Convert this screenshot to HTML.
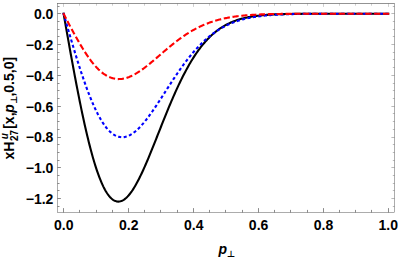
<!DOCTYPE html>
<html><head><meta charset="utf-8"><style>
html,body{margin:0;padding:0;background:#fff;}
svg{display:block;}
</style></head><body>
<svg width="398" height="258" viewBox="0 0 398 258">
<title>xH27u[x,p⊥,0.5,0] versus p⊥</title>
<desc>Line chart with three curves (solid black, dotted blue, dashed red). x axis p⊥ from 0.0 to 1.0; y axis xH27u[x,p⊥,0.5,0] from −1.2 to 0.0.</desc>
<rect width="398" height="258" fill="#fff"/>
<g fill="none" stroke-linejoin="round">
<path d="M63.60,13.72 L64.41,18.32 L65.22,22.91 L66.03,27.49 L66.85,32.07 L67.66,36.64 L68.47,41.19 L69.28,45.72 L70.09,50.23 L70.90,54.72 L71.72,59.18 L72.53,63.61 L73.34,68.01 L74.15,72.37 L74.96,76.69 L75.77,80.97 L76.58,85.21 L77.40,89.41 L78.21,93.55 L79.02,97.64 L79.83,101.68 L80.64,105.66 L81.45,109.59 L82.26,113.45 L83.08,117.25 L83.89,120.98 L84.70,124.65 L85.51,128.24 L86.32,131.77 L87.13,135.22 L87.95,138.60 L88.76,141.90 L89.57,145.12 L90.38,148.26 L91.19,151.31 L92.00,154.29 L92.81,157.18 L93.63,159.99 L94.44,162.70 L95.25,165.33 L96.06,167.87 L96.87,170.33 L97.68,172.69 L98.49,174.96 L99.31,177.13 L100.12,179.22 L100.93,181.21 L101.74,183.11 L102.55,184.91 L103.36,186.62 L104.18,188.24 L104.99,189.76 L105.80,191.19 L106.61,192.52 L107.42,193.76 L108.23,194.91 L109.04,195.97 L109.86,196.93 L110.67,197.80 L111.48,198.57 L112.29,199.26 L113.10,199.86 L113.91,200.36 L114.72,200.78 L115.54,201.11 L116.35,201.36 L117.16,201.52 L117.97,201.59 L118.78,201.58 L119.59,201.49 L120.41,201.32 L121.22,201.07 L122.03,200.74 L122.84,200.34 L123.65,199.86 L124.46,199.31 L125.27,198.68 L126.09,197.98 L126.90,197.22 L127.71,196.39 L128.52,195.49 L129.33,194.53 L130.14,193.51 L130.95,192.42 L131.77,191.28 L132.58,190.09 L133.39,188.83 L134.20,187.53 L135.01,186.17 L135.82,184.77 L136.64,183.31 L137.45,181.82 L138.26,180.27 L139.07,178.69 L139.88,177.07 L140.69,175.41 L141.50,173.71 L142.32,171.98 L143.13,170.21 L143.94,168.42 L144.75,166.60 L145.56,164.75 L146.37,162.87 L147.18,160.97 L148.00,159.05 L148.81,157.11 L149.62,155.16 L150.43,153.18 L151.24,151.19 L152.05,149.19 L152.87,147.18 L153.68,145.15 L154.49,143.12 L155.30,141.08 L156.11,139.04 L156.92,136.99 L157.73,134.94 L158.55,132.89 L159.36,130.84 L160.17,128.79 L160.98,126.75 L161.79,124.70 L162.60,122.67 L163.41,120.64 L164.23,118.62 L165.04,116.60 L165.85,114.60 L166.66,112.61 L167.47,110.63 L168.28,108.66 L169.09,106.71 L169.91,104.77 L170.72,102.85 L171.53,100.94 L172.34,99.05 L173.15,97.18 L173.96,95.33 L174.78,93.49 L175.59,91.68 L176.40,89.89 L177.21,88.11 L178.02,86.36 L178.83,84.64 L179.64,82.93 L180.46,81.25 L181.27,79.59 L182.08,77.95 L182.89,76.34 L183.70,74.75 L184.51,73.18 L185.33,71.65 L186.14,70.13 L186.95,68.64 L187.76,67.18 L188.57,65.74 L189.38,64.33 L190.19,62.94 L191.01,61.58 L191.82,60.24 L192.63,58.93 L193.44,57.64 L194.25,56.38 L195.06,55.15 L195.87,53.94 L196.69,52.76 L197.50,51.60 L198.31,50.46 L199.12,49.36 L199.93,48.27 L200.74,47.21 L201.56,46.17 L202.37,45.16 L203.18,44.18 L203.99,43.21 L204.80,42.27 L205.61,41.35 L206.42,40.46 L207.24,39.58 L208.05,38.73 L208.86,37.90 L209.67,37.10 L210.48,36.31 L211.29,35.55 L212.10,34.80 L212.92,34.08 L213.73,33.37 L214.54,32.69 L215.35,32.02 L216.16,31.38 L216.97,30.75 L217.79,30.14 L218.60,29.55 L219.41,28.98 L220.22,28.42 L221.03,27.88 L221.84,27.35 L222.65,26.85 L223.47,26.36 L224.28,25.88 L225.09,25.42 L225.90,24.97 L226.71,24.54 L227.52,24.12 L228.33,23.72 L229.15,23.33 L229.96,22.95 L230.77,22.58 L231.58,22.23 L232.39,21.89 L233.20,21.56 L234.02,21.24 L234.83,20.94 L235.64,20.64 L236.45,20.36 L237.26,20.08 L238.07,19.82 L238.88,19.56 L239.70,19.31 L240.51,19.08 L241.32,18.85 L242.13,18.63 L242.94,18.42 L243.75,18.22 L244.56,18.02 L245.38,17.83 L246.19,17.65 L247.00,17.48 L247.81,17.31 L248.62,17.15 L249.43,17.00 L250.25,16.85 L251.06,16.71 L251.87,16.57 L252.68,16.44 L253.49,16.31 L254.30,16.19 L255.11,16.08 L255.93,15.97 L256.74,15.86 L257.55,15.76 L258.36,15.67 L259.17,15.57 L259.98,15.48 L260.79,15.40 L261.61,15.32 L262.42,15.24 L263.23,15.17 L264.04,15.10 L264.85,15.03 L265.66,14.96 L266.48,14.90 L267.29,14.84 L268.10,14.79 L268.91,14.73 L269.72,14.68 L270.53,14.63 L271.34,14.59 L272.16,14.54 L272.97,14.50 L273.78,14.46 L274.59,14.42 L275.40,14.38 L276.21,14.35 L277.02,14.32 L277.84,14.29 L278.65,14.26 L279.46,14.23 L280.27,14.20 L281.08,14.17 L281.89,14.15 L282.71,14.13 L283.52,14.10 L284.33,14.08 L285.14,14.06 L285.95,14.04 L286.76,14.03 L287.57,14.01 L288.39,13.99 L289.20,13.98 L290.01,13.96 L290.82,13.95 L291.63,13.94 L292.44,13.92 L293.25,13.91 L294.07,13.90 L294.88,13.89 L295.69,13.88 L296.50,13.87 L297.31,13.86 L298.12,13.86 L298.94,13.85 L299.75,13.84 L300.56,13.83 L301.37,13.83 L302.18,13.82 L302.99,13.81 L303.80,13.81 L304.62,13.80 L305.43,13.80 L306.24,13.79 L307.05,13.79 L307.86,13.78 L308.67,13.78 L309.48,13.78 L310.30,13.77 L311.11,13.77 L311.92,13.77 L312.73,13.76 L313.54,13.76 L314.35,13.76 L315.17,13.76 L315.98,13.75 L316.79,13.75 L317.60,13.75 L318.41,13.75 L319.22,13.75 L320.03,13.74 L320.85,13.74 L321.66,13.74 L322.47,13.74 L323.28,13.74 L324.09,13.74 L324.90,13.74 L325.71,13.74 L326.53,13.73 L327.34,13.73 L328.15,13.73 L328.96,13.73 L329.77,13.73 L330.58,13.73 L331.40,13.73 L332.21,13.73 L333.02,13.73 L333.83,13.73 L334.64,13.73 L335.45,13.73 L336.26,13.73 L337.08,13.73 L337.89,13.73 L338.70,13.72 L339.51,13.72 L340.32,13.72 L341.13,13.72 L341.94,13.72 L342.76,13.72 L343.57,13.72 L344.38,13.72 L345.19,13.72 L346.00,13.72 L346.81,13.72 L347.63,13.72 L348.44,13.72 L349.25,13.72 L350.06,13.72 L350.87,13.72 L351.68,13.72 L352.49,13.72 L353.31,13.72 L354.12,13.72 L354.93,13.72 L355.74,13.72 L356.55,13.72 L357.36,13.72 L358.17,13.72 L358.99,13.72 L359.80,13.72 L360.61,13.72 L361.42,13.72 L362.23,13.72 L363.04,13.72 L363.86,13.72 L364.67,13.72 L365.48,13.72 L366.29,13.72 L367.10,13.72 L367.91,13.72 L368.72,13.72 L369.54,13.72 L370.35,13.72 L371.16,13.72 L371.97,13.72 L372.78,13.72 L373.59,13.72 L374.40,13.72 L375.22,13.72 L376.03,13.72 L376.84,13.72 L377.65,13.72 L378.46,13.72 L379.27,13.72 L380.09,13.72 L380.90,13.72 L381.71,13.72 L382.52,13.72 L383.33,13.72 L384.14,13.72 L384.95,13.72 L385.77,13.72 L386.58,13.72 L387.39,13.72 L388.20,13.72" stroke="#000" stroke-width="2.1" stroke-linecap="square"/>
<path d="M63.60,13.72 L64.41,16.55 L65.22,19.37 L66.03,22.19 L66.85,25.00 L67.66,27.81 L68.47,30.61 L69.28,33.41 L70.09,36.19 L70.90,38.95 L71.72,41.70 L72.53,44.44 L73.34,47.16 L74.15,49.86 L74.96,52.54 L75.77,55.20 L76.58,57.83 L77.40,60.44 L78.21,63.02 L79.02,65.57 L79.83,68.10 L80.64,70.59 L81.45,73.05 L82.26,75.48 L83.08,77.87 L83.89,80.23 L84.70,82.55 L85.51,84.84 L86.32,87.08 L87.13,89.29 L87.95,91.45 L88.76,93.57 L89.57,95.65 L90.38,97.68 L91.19,99.67 L92.00,101.61 L92.81,103.51 L93.63,105.35 L94.44,107.15 L95.25,108.90 L96.06,110.60 L96.87,112.25 L97.68,113.85 L98.49,115.40 L99.31,116.90 L100.12,118.34 L100.93,119.73 L101.74,121.07 L102.55,122.36 L103.36,123.59 L104.18,124.77 L104.99,125.89 L105.80,126.97 L106.61,127.98 L107.42,128.94 L108.23,129.85 L109.04,130.71 L109.86,131.51 L110.67,132.25 L111.48,132.95 L112.29,133.59 L113.10,134.17 L113.91,134.70 L114.72,135.18 L115.54,135.61 L116.35,135.99 L117.16,136.31 L117.97,136.59 L118.78,136.81 L119.59,136.98 L120.41,137.11 L121.22,137.18 L122.03,137.21 L122.84,137.19 L123.65,137.12 L124.46,137.01 L125.27,136.85 L126.09,136.64 L126.90,136.39 L127.71,136.10 L128.52,135.77 L129.33,135.39 L130.14,134.98 L130.95,134.52 L131.77,134.02 L132.58,133.49 L133.39,132.92 L134.20,132.31 L135.01,131.67 L135.82,131.00 L136.64,130.29 L137.45,129.55 L138.26,128.77 L139.07,127.97 L139.88,127.14 L140.69,126.28 L141.50,125.39 L142.32,124.47 L143.13,123.53 L143.94,122.57 L144.75,121.58 L145.56,120.57 L146.37,119.54 L147.18,118.49 L148.00,117.42 L148.81,116.33 L149.62,115.22 L150.43,114.10 L151.24,112.96 L152.05,111.81 L152.87,110.65 L153.68,109.47 L154.49,108.28 L155.30,107.08 L156.11,105.87 L156.92,104.65 L157.73,103.42 L158.55,102.19 L159.36,100.94 L160.17,99.70 L160.98,98.45 L161.79,97.19 L162.60,95.94 L163.41,94.68 L164.23,93.42 L165.04,92.16 L165.85,90.90 L166.66,89.64 L167.47,88.38 L168.28,87.12 L169.09,85.87 L169.91,84.62 L170.72,83.37 L171.53,82.13 L172.34,80.90 L173.15,79.67 L173.96,78.45 L174.78,77.23 L175.59,76.02 L176.40,74.82 L177.21,73.63 L178.02,72.45 L178.83,71.27 L179.64,70.11 L180.46,68.96 L181.27,67.81 L182.08,66.68 L182.89,65.56 L183.70,64.45 L184.51,63.35 L185.33,62.27 L186.14,61.20 L186.95,60.14 L187.76,59.09 L188.57,58.05 L189.38,57.03 L190.19,56.03 L191.01,55.03 L191.82,54.06 L192.63,53.09 L193.44,52.14 L194.25,51.20 L195.06,50.28 L195.87,49.37 L196.69,48.48 L197.50,47.60 L198.31,46.74 L199.12,45.89 L199.93,45.05 L200.74,44.23 L201.56,43.43 L202.37,42.64 L203.18,41.86 L203.99,41.10 L204.80,40.35 L205.61,39.62 L206.42,38.90 L207.24,38.20 L208.05,37.51 L208.86,36.84 L209.67,36.17 L210.48,35.53 L211.29,34.89 L212.10,34.28 L212.92,33.67 L213.73,33.08 L214.54,32.50 L215.35,31.93 L216.16,31.38 L216.97,30.84 L217.79,30.32 L218.60,29.80 L219.41,29.30 L220.22,28.81 L221.03,28.34 L221.84,27.87 L222.65,27.42 L223.47,26.98 L224.28,26.55 L225.09,26.13 L225.90,25.72 L226.71,25.32 L227.52,24.94 L228.33,24.56 L229.15,24.20 L229.96,23.84 L230.77,23.50 L231.58,23.16 L232.39,22.83 L233.20,22.52 L234.02,22.21 L234.83,21.91 L235.64,21.62 L236.45,21.34 L237.26,21.07 L238.07,20.80 L238.88,20.55 L239.70,20.30 L240.51,20.06 L241.32,19.82 L242.13,19.60 L242.94,19.38 L243.75,19.17 L244.56,18.96 L245.38,18.76 L246.19,18.57 L247.00,18.39 L247.81,18.21 L248.62,18.03 L249.43,17.87 L250.25,17.70 L251.06,17.55 L251.87,17.40 L252.68,17.25 L253.49,17.11 L254.30,16.97 L255.11,16.84 L255.93,16.72 L256.74,16.60 L257.55,16.48 L258.36,16.36 L259.17,16.25 L259.98,16.15 L260.79,16.05 L261.61,15.95 L262.42,15.86 L263.23,15.77 L264.04,15.68 L264.85,15.60 L265.66,15.52 L266.48,15.44 L267.29,15.36 L268.10,15.29 L268.91,15.22 L269.72,15.16 L270.53,15.09 L271.34,15.03 L272.16,14.98 L272.97,14.92 L273.78,14.87 L274.59,14.81 L275.40,14.76 L276.21,14.72 L277.02,14.67 L277.84,14.63 L278.65,14.59 L279.46,14.55 L280.27,14.51 L281.08,14.47 L281.89,14.44 L282.71,14.40 L283.52,14.37 L284.33,14.34 L285.14,14.31 L285.95,14.28 L286.76,14.25 L287.57,14.23 L288.39,14.20 L289.20,14.18 L290.01,14.16 L290.82,14.14 L291.63,14.12 L292.44,14.10 L293.25,14.08 L294.07,14.06 L294.88,14.04 L295.69,14.03 L296.50,14.01 L297.31,14.00 L298.12,13.98 L298.94,13.97 L299.75,13.96 L300.56,13.94 L301.37,13.93 L302.18,13.92 L302.99,13.91 L303.80,13.90 L304.62,13.89 L305.43,13.88 L306.24,13.87 L307.05,13.87 L307.86,13.86 L308.67,13.85 L309.48,13.84 L310.30,13.84 L311.11,13.83 L311.92,13.82 L312.73,13.82 L313.54,13.81 L314.35,13.81 L315.17,13.80 L315.98,13.80 L316.79,13.79 L317.60,13.79 L318.41,13.79 L319.22,13.78 L320.03,13.78 L320.85,13.78 L321.66,13.77 L322.47,13.77 L323.28,13.77 L324.09,13.76 L324.90,13.76 L325.71,13.76 L326.53,13.76 L327.34,13.76 L328.15,13.75 L328.96,13.75 L329.77,13.75 L330.58,13.75 L331.40,13.75 L332.21,13.74 L333.02,13.74 L333.83,13.74 L334.64,13.74 L335.45,13.74 L336.26,13.74 L337.08,13.74 L337.89,13.74 L338.70,13.73 L339.51,13.73 L340.32,13.73 L341.13,13.73 L341.94,13.73 L342.76,13.73 L343.57,13.73 L344.38,13.73 L345.19,13.73 L346.00,13.73 L346.81,13.73 L347.63,13.73 L348.44,13.73 L349.25,13.73 L350.06,13.73 L350.87,13.73 L351.68,13.73 L352.49,13.73 L353.31,13.72 L354.12,13.72 L354.93,13.72 L355.74,13.72 L356.55,13.72 L357.36,13.72 L358.17,13.72 L358.99,13.72 L359.80,13.72 L360.61,13.72 L361.42,13.72 L362.23,13.72 L363.04,13.72 L363.86,13.72 L364.67,13.72 L365.48,13.72 L366.29,13.72 L367.10,13.72 L367.91,13.72 L368.72,13.72 L369.54,13.72 L370.35,13.72 L371.16,13.72 L371.97,13.72 L372.78,13.72 L373.59,13.72 L374.40,13.72 L375.22,13.72 L376.03,13.72 L376.84,13.72 L377.65,13.72 L378.46,13.72 L379.27,13.72 L380.09,13.72 L380.90,13.72 L381.71,13.72 L382.52,13.72 L383.33,13.72 L384.14,13.72 L384.95,13.72 L385.77,13.72 L386.58,13.72 L387.39,13.72 L388.20,13.72" stroke="#0000ff" stroke-width="2.1" stroke-linecap="square" stroke-dasharray="1.0 4.5224" stroke-dashoffset="5.19"/>
<path d="M63.60,13.72 L64.41,15.34 L65.22,16.93 L66.03,18.49 L66.85,20.05 L67.66,21.60 L68.47,23.13 L69.28,24.66 L70.09,26.19 L70.90,27.70 L71.72,29.21 L72.53,30.70 L73.34,32.19 L74.15,33.67 L74.96,35.14 L75.77,36.59 L76.58,38.04 L77.40,39.47 L78.21,40.89 L79.02,42.29 L79.83,43.68 L80.64,45.06 L81.45,46.41 L82.26,47.75 L83.08,49.07 L83.89,50.37 L84.70,51.65 L85.51,52.90 L86.32,54.14 L87.13,55.35 L87.95,56.53 L88.76,57.69 L89.57,58.83 L90.38,59.94 L91.19,61.02 L92.00,62.07 L92.81,63.09 L93.63,64.09 L94.44,65.05 L95.25,65.98 L96.06,66.88 L96.87,67.76 L97.68,68.59 L98.49,69.40 L99.31,70.18 L100.12,70.92 L100.93,71.63 L101.74,72.31 L102.55,72.95 L103.36,73.56 L104.18,74.14 L104.99,74.68 L105.80,75.20 L106.61,75.68 L107.42,76.12 L108.23,76.54 L109.04,76.92 L109.86,77.27 L110.67,77.59 L111.48,77.87 L112.29,78.13 L113.10,78.35 L113.91,78.54 L114.72,78.71 L115.54,78.84 L116.35,78.94 L117.16,79.01 L117.97,79.06 L118.78,79.07 L119.59,79.06 L120.41,79.02 L121.22,78.95 L122.03,78.86 L122.84,78.74 L123.65,78.59 L124.46,78.42 L125.27,78.23 L126.09,78.01 L126.90,77.76 L127.71,77.50 L128.52,77.21 L129.33,76.90 L130.14,76.56 L130.95,76.21 L131.77,75.84 L132.58,75.44 L133.39,75.03 L134.20,74.60 L135.01,74.16 L135.82,73.69 L136.64,73.21 L137.45,72.71 L138.26,72.20 L139.07,71.67 L139.88,71.13 L140.69,70.58 L141.50,70.01 L142.32,69.43 L143.13,68.84 L143.94,68.24 L144.75,67.63 L145.56,67.01 L146.37,66.37 L147.18,65.74 L148.00,65.09 L148.81,64.43 L149.62,63.77 L150.43,63.10 L151.24,62.43 L152.05,61.75 L152.87,61.07 L153.68,60.38 L154.49,59.69 L155.30,59.00 L156.11,58.30 L156.92,57.61 L157.73,56.91 L158.55,56.21 L159.36,55.51 L160.17,54.80 L160.98,54.10 L161.79,53.40 L162.60,52.71 L163.41,52.01 L164.23,51.31 L165.04,50.62 L165.85,49.93 L166.66,49.25 L167.47,48.56 L168.28,47.88 L169.09,47.21 L169.91,46.54 L170.72,45.87 L171.53,45.21 L172.34,44.56 L173.15,43.91 L173.96,43.26 L174.78,42.62 L175.59,41.99 L176.40,41.37 L177.21,40.75 L178.02,40.14 L178.83,39.53 L179.64,38.93 L180.46,38.34 L181.27,37.76 L182.08,37.19 L182.89,36.62 L183.70,36.06 L184.51,35.51 L185.33,34.97 L186.14,34.43 L186.95,33.91 L187.76,33.39 L188.57,32.88 L189.38,32.38 L190.19,31.88 L191.01,31.40 L191.82,30.92 L192.63,30.46 L193.44,30.00 L194.25,29.55 L195.06,29.11 L195.87,28.68 L196.69,28.25 L197.50,27.84 L198.31,27.43 L199.12,27.03 L199.93,26.64 L200.74,26.26 L201.56,25.88 L202.37,25.52 L203.18,25.16 L203.99,24.81 L204.80,24.47 L205.61,24.14 L206.42,23.81 L207.24,23.49 L208.05,23.18 L208.86,22.88 L209.67,22.59 L210.48,22.30 L211.29,22.02 L212.10,21.75 L212.92,21.48 L213.73,21.22 L214.54,20.97 L215.35,20.72 L216.16,20.49 L216.97,20.25 L217.79,20.03 L218.60,19.81 L219.41,19.60 L220.22,19.39 L221.03,19.19 L221.84,18.99 L222.65,18.80 L223.47,18.62 L224.28,18.44 L225.09,18.27 L225.90,18.10 L226.71,17.94 L227.52,17.78 L228.33,17.63 L229.15,17.48 L229.96,17.34 L230.77,17.20 L231.58,17.07 L232.39,16.94 L233.20,16.81 L234.02,16.69 L234.83,16.58 L235.64,16.46 L236.45,16.35 L237.26,16.25 L238.07,16.15 L238.88,16.05 L239.70,15.95 L240.51,15.86 L241.32,15.77 L242.13,15.69 L242.94,15.61 L243.75,15.53 L244.56,15.45 L245.38,15.38 L246.19,15.31 L247.00,15.24 L247.81,15.18 L248.62,15.11 L249.43,15.05 L250.25,14.99 L251.06,14.94 L251.87,14.89 L252.68,14.83 L253.49,14.78 L254.30,14.74 L255.11,14.69 L255.93,14.65 L256.74,14.61 L257.55,14.56 L258.36,14.53 L259.17,14.49 L259.98,14.45 L260.79,14.42 L261.61,14.39 L262.42,14.36 L263.23,14.33 L264.04,14.30 L264.85,14.27 L265.66,14.24 L266.48,14.22 L267.29,14.19 L268.10,14.17 L268.91,14.15 L269.72,14.13 L270.53,14.11 L271.34,14.09 L272.16,14.07 L272.97,14.05 L273.78,14.04 L274.59,14.02 L275.40,14.01 L276.21,13.99 L277.02,13.98 L277.84,13.96 L278.65,13.95 L279.46,13.94 L280.27,13.93 L281.08,13.92 L281.89,13.91 L282.71,13.90 L283.52,13.89 L284.33,13.88 L285.14,13.87 L285.95,13.86 L286.76,13.86 L287.57,13.85 L288.39,13.84 L289.20,13.83 L290.01,13.83 L290.82,13.82 L291.63,13.82 L292.44,13.81 L293.25,13.81 L294.07,13.80 L294.88,13.80 L295.69,13.79 L296.50,13.79 L297.31,13.79 L298.12,13.78 L298.94,13.78 L299.75,13.77 L300.56,13.77 L301.37,13.77 L302.18,13.77 L302.99,13.76 L303.80,13.76 L304.62,13.76 L305.43,13.76 L306.24,13.75 L307.05,13.75 L307.86,13.75 L308.67,13.75 L309.48,13.75 L310.30,13.75 L311.11,13.74 L311.92,13.74 L312.73,13.74 L313.54,13.74 L314.35,13.74 L315.17,13.74 L315.98,13.74 L316.79,13.74 L317.60,13.73 L318.41,13.73 L319.22,13.73 L320.03,13.73 L320.85,13.73 L321.66,13.73 L322.47,13.73 L323.28,13.73 L324.09,13.73 L324.90,13.73 L325.71,13.73 L326.53,13.73 L327.34,13.73 L328.15,13.73 L328.96,13.73 L329.77,13.73 L330.58,13.73 L331.40,13.72 L332.21,13.72 L333.02,13.72 L333.83,13.72 L334.64,13.72 L335.45,13.72 L336.26,13.72 L337.08,13.72 L337.89,13.72 L338.70,13.72 L339.51,13.72 L340.32,13.72 L341.13,13.72 L341.94,13.72 L342.76,13.72 L343.57,13.72 L344.38,13.72 L345.19,13.72 L346.00,13.72 L346.81,13.72 L347.63,13.72 L348.44,13.72 L349.25,13.72 L350.06,13.72 L350.87,13.72 L351.68,13.72 L352.49,13.72 L353.31,13.72 L354.12,13.72 L354.93,13.72 L355.74,13.72 L356.55,13.72 L357.36,13.72 L358.17,13.72 L358.99,13.72 L359.80,13.72 L360.61,13.72 L361.42,13.72 L362.23,13.72 L363.04,13.72 L363.86,13.72 L364.67,13.72 L365.48,13.72 L366.29,13.72 L367.10,13.72 L367.91,13.72 L368.72,13.72 L369.54,13.72 L370.35,13.72 L371.16,13.72 L371.97,13.72 L372.78,13.72 L373.59,13.72 L374.40,13.72 L375.22,13.72 L376.03,13.72 L376.84,13.72 L377.65,13.72 L378.46,13.72 L379.27,13.72 L380.09,13.72 L380.90,13.72 L381.71,13.72 L382.52,13.72 L383.33,13.72 L384.14,13.72 L384.95,13.72 L385.77,13.72 L386.58,13.72 L387.39,13.72 L388.20,13.72" stroke="#ff0000" stroke-width="2.1" stroke-linecap="square" stroke-dasharray="4.1 4.762" stroke-dashoffset="8.412"/>
</g>
<g stroke="#5a5a5a" stroke-width="0.5" fill="none">
<rect x="57.5" y="3.5" width="337.0" height="209.0"/>
<path stroke-width="0.7" d="M63.50,212.5V208.1M79.50,212.5V209.9M96.50,212.5V209.9M112.50,212.5V209.9M128.50,212.5V208.1M144.50,212.5V209.9M160.50,212.5V209.9M177.50,212.5V209.9M193.50,212.5V208.1M209.50,212.5V209.9M225.50,212.5V209.9M242.50,212.5V209.9M258.50,212.5V208.1M274.50,212.5V209.9M290.50,212.5V209.9M307.50,212.5V209.9M323.50,212.5V208.1M339.50,212.5V209.9M355.50,212.5V209.9M371.50,212.5V209.9M388.50,212.5V208.1M57.5,6.50H59.5M57.5,13.50H60.9M57.5,21.50H59.5M57.5,29.50H59.5M57.5,36.50H59.5M57.5,44.50H60.9M57.5,52.50H59.5M57.5,59.50H59.5M57.5,67.50H59.5M57.5,75.50H60.9M57.5,83.50H59.5M57.5,90.50H59.5M57.5,98.50H59.5M57.5,106.50H60.9M57.5,113.50H59.5M57.5,121.50H59.5M57.5,129.50H59.5M57.5,137.50H60.9M57.5,144.50H59.5M57.5,152.50H59.5M57.5,160.50H59.5M57.5,167.50H60.9M57.5,175.50H59.5M57.5,183.50H59.5M57.5,190.50H59.5M57.5,198.50H60.9M57.5,206.50H59.5"/>
<path stroke-width="0.42" d="M394.5,6.50H392.8M394.5,13.50H391.40000000000003M394.5,21.50H392.8M394.5,29.50H392.8M394.5,36.50H392.8M394.5,44.50H391.40000000000003M394.5,52.50H392.8M394.5,59.50H392.8M394.5,67.50H392.8M394.5,75.50H391.40000000000003M394.5,83.50H392.8M394.5,90.50H392.8M394.5,98.50H392.8M394.5,106.50H391.40000000000003M394.5,113.50H392.8M394.5,121.50H392.8M394.5,129.50H392.8M394.5,137.50H391.40000000000003M394.5,144.50H392.8M394.5,152.50H392.8M394.5,160.50H392.8M394.5,167.50H391.40000000000003M394.5,175.50H392.8M394.5,183.50H392.8M394.5,190.50H392.8M394.5,198.50H391.40000000000003M394.5,206.50H392.8"/>
<path stroke-width="0.3" d="M63.50,3.5V6.9M79.50,3.5V5.7M96.50,3.5V5.7M112.50,3.5V5.7M128.50,3.5V6.9M144.50,3.5V5.7M160.50,3.5V5.7M177.50,3.5V5.7M193.50,3.5V6.9M209.50,3.5V5.7M225.50,3.5V5.7M242.50,3.5V5.7M258.50,3.5V6.9M274.50,3.5V5.7M290.50,3.5V5.7M307.50,3.5V5.7M323.50,3.5V6.9M339.50,3.5V5.7M355.50,3.5V5.7M371.50,3.5V5.7M388.50,3.5V6.9"/>
<path stroke-width="0.3" d="M57.5,3.5H394.5"/>
</g>
<g fill="#000" font-family="'Liberation Sans', sans-serif" font-weight="bold" font-size="14">
<text x="63.8" y="230" text-anchor="middle">0.0</text>
<text x="128.7" y="230" text-anchor="middle">0.2</text>
<text x="193.7" y="230" text-anchor="middle">0.4</text>
<text x="258.6" y="230" text-anchor="middle">0.6</text>
<text x="323.5" y="230" text-anchor="middle">0.8</text>
<text x="388.2" y="230" text-anchor="middle">1.0</text>
<text x="53.4" y="19.07" text-anchor="end">0.0</text>
<text x="53.4" y="49.89" text-anchor="end">−0.2</text>
<text x="53.4" y="80.71" text-anchor="end">−0.4</text>
<text x="53.4" y="111.53" text-anchor="end">−0.6</text>
<text x="53.4" y="142.35" text-anchor="end">−0.8</text>
<text x="53.4" y="173.17" text-anchor="end">−1.0</text>
<text x="53.4" y="203.99" text-anchor="end">−1.2</text>
<text x="218.4" y="254.2" font-style="italic">p</text>
<text x="226.8" y="256.6" font-size="9" font-family="'DejaVu Sans', 'Liberation Sans', sans-serif">⊥</text>
</g>
<g transform="translate(14.4,159.6) rotate(-90)" fill="#000" font-family="'Liberation Sans', sans-serif" font-weight="bold" font-size="14">
<text x="0" y="0">xH</text>
<text x="18.6" y="3.15" font-size="10">27</text>
<text x="20.3" y="-6.2" font-size="10" font-style="italic">u</text>
<text x="30.8" y="0">[x,</text>
<text x="46.9" y="0" font-style="italic">p</text>
<text x="55.6" y="2.1" font-size="9" font-family="'DejaVu Sans', 'Liberation Sans', sans-serif">⊥</text>
<text x="63" y="0">,0.5,0]</text>
</g>
</svg>
</body></html>
